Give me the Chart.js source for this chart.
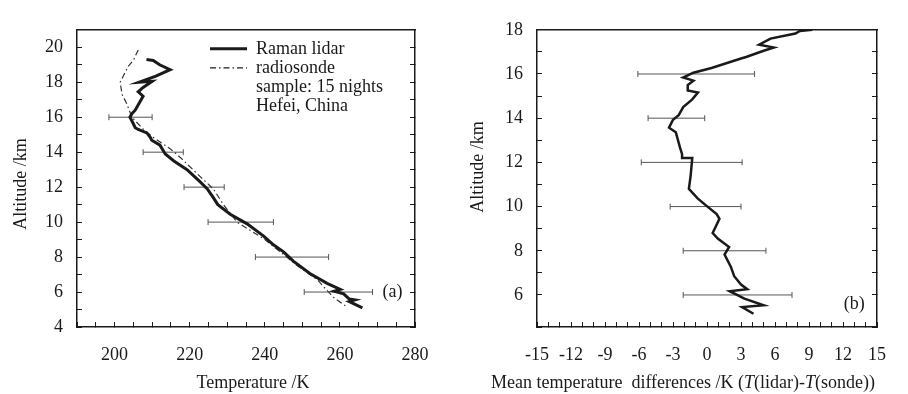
<!DOCTYPE html>
<html>
<head>
<meta charset="utf-8">
<script src="https://cdn.jsdelivr.net/npm/chart.js@4.4.0/dist/chart.umd.min.js"></script>
<style>
	body { margin: 0; background: #fff; }
	#wrap { position: relative; width: 908px; height: 394px; }
	.box { position: absolute; top: 0; width: 454px; height: 394px; }
</style>
</head>
<body>
<div id="wrap">
	<div class="box" style="left:0"><canvas id="tempChart" width="454" height="394"></canvas></div>
	<div class="box" style="left:454px"><canvas id="diffChart" width="454" height="394"></canvas></div>
</div>
<script>
// (a) temperature profiles, K vs km
const lidarAlt = [19.3, 19.25, 19.0, 18.72, 18.35, 18.0, 18.05, 17.7, 17.45, 17.2, 16.9, 16.4, 16.2, 16.0, 15.67, 15.4, 15.3, 15.1, 14.85, 14.68, 14.4, 13.9, 13.5, 13.0, 12.3, 11.9, 11.4, 11.0, 10.45, 9.9, 9.2, 8.7, 8.3, 7.77, 7.06, 6.5, 6.15, 6.05, 5.9, 5.6, 5.55, 5.45, 5.1];
const lidarTemp = [208.5, 210.3, 212, 214.8, 211, 206.5, 210, 207.6, 206.3, 207.6, 206.8, 205.5, 204.6, 204.1, 204.9, 205.5, 206.3, 208.6, 209.5, 209.9, 212.1, 213.5, 215.8, 219.3, 222.8, 224.7, 226.3, 227.5, 230.8, 235.3, 239.7, 242.3, 245, 247.6, 252, 256.6, 260.1, 258.5, 261, 262.5, 264, 262.5, 266];

const sondeAlt = [19.85, 19.25, 18.9, 18.0, 17.3, 16.75, 16.0, 15.3, 14.85, 14.2, 13.7, 12.6, 11.9, 11.0, 10.0, 9.05, 8.1, 7.6, 6.7, 6.2, 5.7, 5.2];
const sondeTemp = [206.3, 205, 203.6, 201.5, 202, 203.3, 204.6, 207.7, 210.3, 214.8, 217.5, 222.8, 226.3, 229, 232.6, 239.7, 245.3, 248.1, 254, 256.1, 258.3, 261.5];

const errAlt = [16, 14, 12, 10, 8, 6];
const errTempMin = [198.5, 207.6, 218.5, 224.9, 237.5, 250.5];
const errTempMax = [210, 218.3, 229.2, 242.3, 257, 268.7];

const legendText = ["Raman lidar", "radiosonde", "sample: 15 nights", "Hefei, China"];

// (b) mean difference lidar - sonde
const diffAlt = [18.0, 17.95, 17.83, 17.6, 17.33, 17.2, 17.05, 16.77, 16.7, 16.27, 16.06, 15.84, 15.7, 15.5, 15.25, 15.16, 14.85, 14.5, 14.14, 13.93, 13.57, 13.36, 13.08, 12.7, 12.37, 12.2, 12.2, 11.37, 10.8, 10.38, 10.1, 9.66, 9.45, 8.8, 8.55, 8.17, 7.83, 7.28, 6.85, 6.47, 6.26, 6.17, 5.83, 5.53, 5.45, 5.15];
const diffValue = [9.3, 8.2, 7.8, 5.6, 4.6, 5.9, 5.0, 3.45, 3.0, 0.4, -1.2, -2.1, -1.2, -1.7, -1.7, -0.8, -1.3, -2.1, -2.5, -3.0, -3.35, -2.75, -2.6, -2.4, -2.2, -2.2, -1.3, -1.45, -1.6, -0.85, -0.2, 0.85, 1.1, 0.5, 0.95, 1.95, 1.55, 2.1, 2.4, 3.0, 3.55, 2.0, 3.3, 5.0, 3.1, 4.1];

const diffErrAlt = [16, 14, 12, 10, 8, 6];
const diffErrMin = [-6.1, -5.2, -5.8, -3.25, -2.1, -2.1];
const diffErrMax = [4.2, -0.2, 3.1, 3.0, 5.2, 7.5];

Chart.defaults.font.family = "'Liberation Serif', 'Times New Roman', serif";
Chart.defaults.font.size = 18;
Chart.defaults.color = "#1a1a1a";
Chart.defaults.animation = false;

const ink = "#1a1a1a";
const font = "18px 'Liberation Serif', serif";

function toPoints(xs, ys) {
	return xs.map((v, i) => ({ x: v, y: ys[i] }));
}

function errorBars(alts, mins, maxs) {
	let sets = [];
	for (let i = 0; i < alts.length; i++) {
		sets.push({
			data: [{ x: mins[i], y: alts[i] }, { x: maxs[i], y: alts[i] }],
			showLine: true,
			borderColor: "#555",
			borderWidth: 1,
			pointStyle: "line",
			rotation: 90,
			pointRadius: 3,
			pointBorderWidth: 1,
			pointBorderColor: "#555",
		});
	}
	return sets;
}

// axes with inward ticks, boxed frame
function frameScales(xMin, xMax, xStep, xLabel, yMin, yMax, yLabel, yWidth) {
	const tickGrid = { drawOnChartArea: false, tickLength: -5, color: ink, lineWidth: 1 };
	const edge = { color: ink, width: 1.5 };
	return {
		x: {
			type: "linear", position: "bottom", min: xMin, max: xMax, border: edge, grid: tickGrid,
			ticks: { stepSize: xStep, autoSkip: false, maxRotation: 0, padding: 22, callback: xLabel },
			afterFit: (s) => { s.height = 67; },
		},
		y: {
			type: "linear", position: "left", min: yMin, max: yMax, border: edge, grid: tickGrid,
			ticks: { stepSize: 1, autoSkip: false, padding: 19, callback: yLabel },
			afterFit: (s) => { s.width = yWidth; },
		},
		x2: {
			type: "linear", position: "top", min: xMin, max: xMax, border: edge,
			grid: { drawOnChartArea: false, drawTicks: false },
			ticks: { display: false },
			afterFit: (s) => { s.height = 0; },
		},
		y2: {
			type: "linear", position: "right", min: yMin, max: yMax, border: edge, grid: tickGrid,
			ticks: { display: false, stepSize: 1 },
			afterFit: (s) => { s.width = 0; },
		},
	};
}

function drawTitles(ctx, xText, xCenter, yCenter) {
	ctx.save();
	ctx.fillStyle = ink;
	ctx.textAlign = "center";
	ctx.textBaseline = "middle";
	ctx.font = font;
	if (xText) ctx.fillText(xText, xCenter, 383);
	ctx.translate(yCenter[0], yCenter[1]);
	ctx.rotate(-Math.PI / 2);
	ctx.fillText("Altitude /km", 0, 0);
	ctx.restore();
}

const panelA = {
	id: "panelA",
	afterDatasetsDraw(chart) {
		const ctx = chart.ctx;
		const area = chart.chartArea;
		const x = chart.scales.x;
		const y = chart.scales.y;
		ctx.save();
		ctx.fillStyle = ink;
		ctx.strokeStyle = ink;
		ctx.font = font;
		ctx.textBaseline = "middle";
		const lx = area.left + 133;
		const tx = area.left + 179;
		for (let i = 0; i < legendText.length; i++) {
			ctx.fillText(legendText[i], tx, area.top + 19 + i * 19.3);
		}
		ctx.lineWidth = 3;
		ctx.beginPath();
		ctx.moveTo(lx, area.top + 19);
		ctx.lineTo(lx + 37, area.top + 19);
		ctx.stroke();
		ctx.lineWidth = 1.2;
		ctx.setLineDash([6, 3, 1.5, 3]);
		ctx.beginPath();
		ctx.moveTo(lx, area.top + 38);
		ctx.lineTo(lx + 37, area.top + 38);
		ctx.stroke();
		ctx.setLineDash([]);
		ctx.textAlign = "center";
		ctx.fillText("(a)", x.getPixelForValue(274), y.getPixelForValue(6));
		ctx.restore();
		drawTitles(ctx, "Temperature /K", 253, [21, 184]);
	},
};

const panelB = {
	id: "panelB",
	afterDraw(chart) {
		const ctx = chart.ctx;
		const x = chart.scales.x;
		const y = chart.scales.y;
		ctx.save();
		ctx.fillStyle = ink;
		ctx.textBaseline = "middle";
		ctx.textAlign = "center";
		ctx.font = font;
		ctx.fillText("(b)", x.getPixelForValue(13), y.getPixelForValue(5.6));

		// axis title with italic T
		const parts = [
			["Mean temperature  differences /K (", false],
			["T", true],
			["(lidar)-", false],
			["T", true],
			["(sonde))", false],
		];
		let total = 0;
		for (const p of parts) {
			ctx.font = (p[1] ? "italic " : "") + font;
			total += ctx.measureText(p[0]).width;
		}
		let px = 229 - total / 2;
		ctx.textAlign = "left";
		for (const p of parts) {
			ctx.font = (p[1] ? "italic " : "") + font;
			ctx.fillText(p[0], px, 383);
			px += ctx.measureText(p[0]).width;
		}
		ctx.restore();
		drawTitles(ctx, null, 0, [24, 167]);
	},
};

function showTempChart() {
	const ctx = document.getElementById("tempChart");
	const scales = frameScales(
		190, 280, 5, (v) => (v % 20 === 0 ? v : ""),
		4, 21, (v) => (v % 2 === 0 && v <= 20 ? v : ""), 77
	);

	new Chart(ctx, {
		type: "scatter",
		data: {
			datasets: [
				{
					label: "Raman lidar",
					data: toPoints(lidarTemp, lidarAlt),
					showLine: true,
					borderColor: ink,
					borderWidth: 3,
					pointRadius: 0,
				},
				{
					label: "radiosonde",
					data: toPoints(sondeTemp, sondeAlt),
					showLine: true,
					borderColor: "#333",
					borderWidth: 1.2,
					borderDash: [6, 3, 1.5, 3],
					pointRadius: 0,
				},
				...errorBars(errAlt, errTempMin, errTempMax),
			],
		},
		options: {
			responsive: false,
			devicePixelRatio: 1,
			layout: { padding: { top: 10, right: 39, left: 0, bottom: 0 } },
			plugins: { legend: { display: false }, tooltip: { enabled: false } },
			scales: scales,
		},
		plugins: [panelA],
	});
}

function showDiffChart() {
	const ctx = document.getElementById("diffChart");
	const scales = frameScales(
		-15, 15, 1, (v) => (v % 3 === 0 ? String(v === 0 ? 0 : v) : ""),
		4.55, 18, (v) => (v % 2 === 0 ? v : ""), 83
	);

	new Chart(ctx, {
		type: "scatter",
		data: {
			datasets: [
				{
					label: "difference",
					data: toPoints(diffValue, diffAlt),
					showLine: true,
					borderColor: ink,
					borderWidth: 2.5,
					pointRadius: 0,
				},
				...errorBars(diffErrAlt, diffErrMin, diffErrMax),
			],
		},
		options: {
			responsive: false,
			devicePixelRatio: 1,
			layout: { padding: { top: 11, right: 23, left: 0, bottom: 0 } },
			plugins: { legend: { display: false }, tooltip: { enabled: false } },
			scales: scales,
		},
		plugins: [panelB],
	});
}

showTempChart();
showDiffChart();
</script>
</body>
</html>
